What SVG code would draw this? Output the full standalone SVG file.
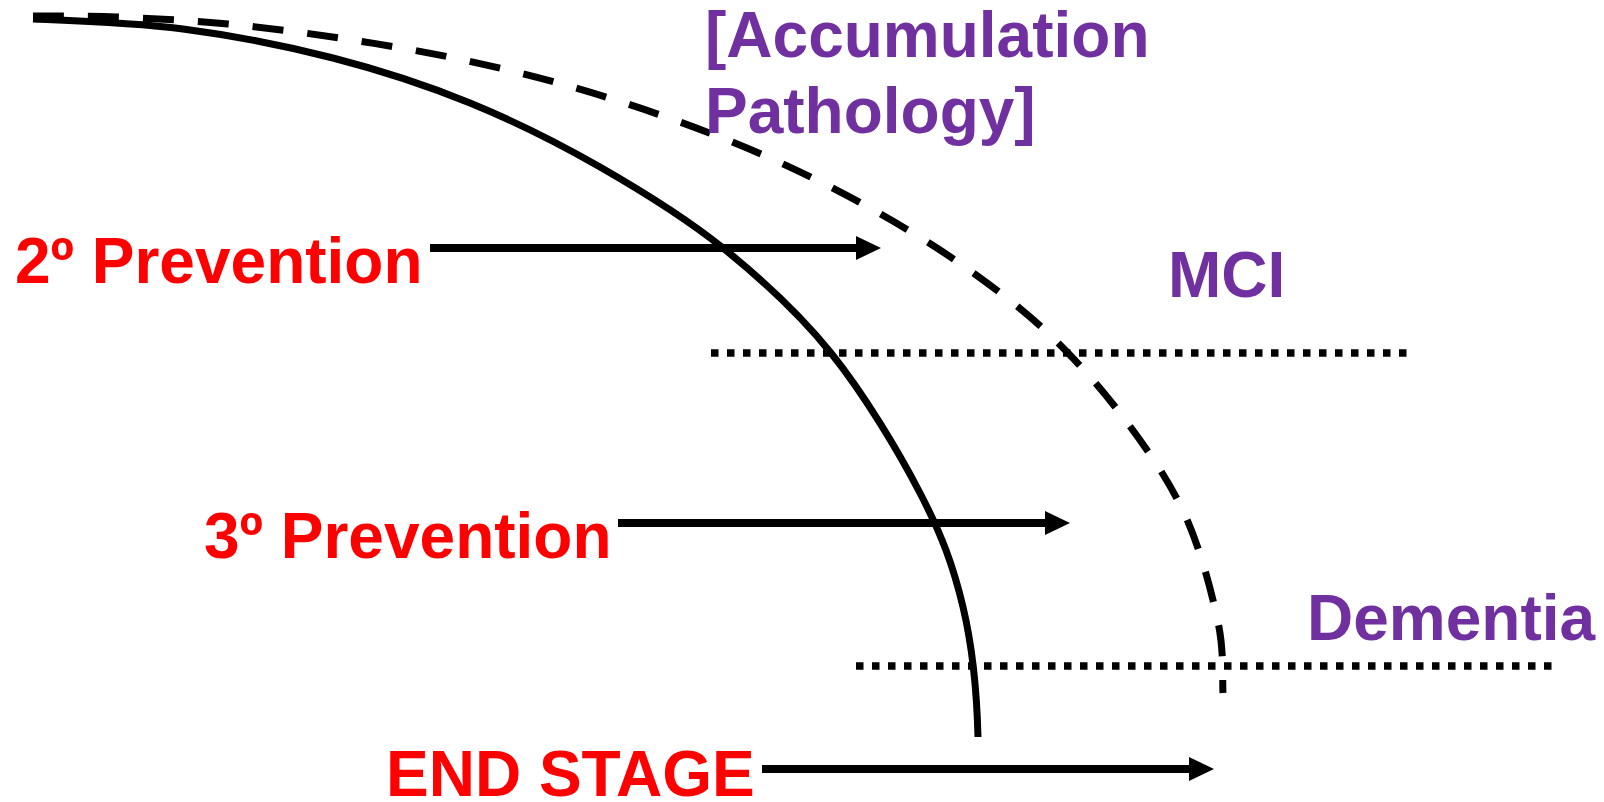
<svg xmlns="http://www.w3.org/2000/svg" width="1604" height="802" viewBox="0 0 1604 802">
<style>
.red{font-family:"Liberation Sans",Arial,sans-serif;font-weight:bold;font-size:64px;fill:#FF0000}
.pur{font-family:"Liberation Sans",Arial,sans-serif;font-weight:bold;font-size:64px;fill:#7030A0}
.curve{fill:none;stroke:#000;stroke-width:7;stroke-linejoin:round}
.dash{stroke-dasharray:31 24}
.dot{stroke:#000;stroke-width:7.5;stroke-dasharray:7.5 8.5;fill:none}
.arrow{stroke:#000;stroke-width:8;fill:none}
</style>
<defs>
<marker id="ah" viewBox="0 0 25 24" refX="5" refY="12" markerWidth="25" markerHeight="24" markerUnits="userSpaceOnUse" orient="auto">
<path d="M0,0 L25,12 L0,24 z" fill="#000"/>
</marker>
</defs>
<rect width="1604" height="802" fill="#fff"/>
<g id="connectors">
<path id="solid-curve" class="curve" d="M33,19 C83,21 133,22.5 183,29 C233,35.5 285.2,45.7 333,58 C380.8,70.3 425.5,84.8 470,103 C514.5,121.2 557.8,142.8 600,167 C642.2,191.2 684.5,217 723,248 C761.5,279 798.2,312.2 831,353 C863.8,393.8 898,450.7 920,493 C942,535.3 953.3,566.3 963,607 C972.7,647.7 977,697 978,737"/>
<path id="dashed-curve" class="curve dash" d="M33,16 C47,16.2 84.5,15.7 117,17 C149.5,18.3 191,20.5 228,24 C265,27.5 302.2,32.5 339,38 C375.8,43.5 412.5,49.5 449,57 C485.5,64.5 521.8,73 558,83 C594.2,93 630.7,104.5 666,117 C701.3,129.5 736,142.8 770,158 C804,173.2 837.5,189.8 870,208 C902.5,226.2 934.8,245.7 965,267 C995.2,288.3 1024.2,310.3 1051,336 C1077.8,361.7 1103.7,391.2 1126,421 C1148.3,450.8 1169.7,481.5 1185,515 C1200.3,548.5 1211.7,592.3 1218,622 C1224.3,651.7 1222.2,681.2 1223,693"/>
<line id="mci-line" class="dot" x1="711" y1="353" x2="1407" y2="353"/>
<line id="dementia-line" class="dot" x1="856" y1="666" x2="1553" y2="666"/>
<line id="arrow-2" class="arrow" x1="430" y1="248" x2="861" y2="248" marker-end="url(#ah)"/>
<line id="arrow-3" class="arrow" x1="618" y1="523" x2="1050" y2="523" marker-end="url(#ah)"/>
<line id="arrow-end" class="arrow" x1="762" y1="769" x2="1194" y2="769" marker-end="url(#ah)"/>
</g>
<g id="accumulation"><text class="pur" x="705" y="57">[Accumulation</text><text class="pur" x="705" y="133">Pathology]</text></g>
<g id="prevention2"><text class="red" x="15" y="283">2º Prevention</text></g>
<g id="mci"><text class="pur" x="1168" y="297">MCI</text></g>
<g id="prevention3"><text class="red" x="204" y="558">3º Prevention</text></g>
<g id="dementia"><text class="pur" x="1307" y="640">Dementia</text></g>
<g id="endstage"><text class="red" x="386" y="796">END STAGE</text></g>
</svg>
